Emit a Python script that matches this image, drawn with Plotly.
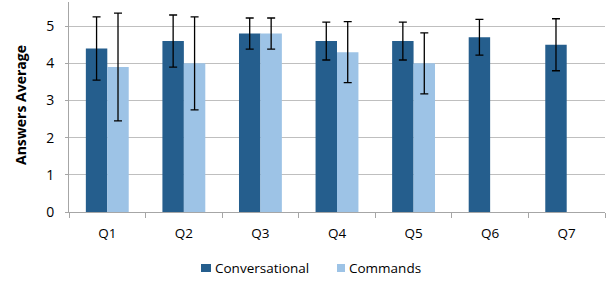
import plotly.graph_objects as go

categories = ["Q1", "Q2", "Q3", "Q4", "Q5", "Q6", "Q7"]
conversational = [4.4, 4.6, 4.8, 4.6, 4.6, 4.7, 4.5]
conversational_err = [0.85, 0.7, 0.42, 0.51, 0.51, 0.48, 0.7]
commands = [3.9, 4.0, 4.8, 4.3, 4.0, None, None]
commands_err = [1.45, 1.25, 0.42, 0.82, 0.82, None, None]
series_names = ["Conversational", "Commands"]
series_colors = ["#255E8D", "#9DC3E6"]

font_family = "Open Sans, Liberation Sans, Arial, sans-serif"

W, H = 609, 282
ML, MR, MT, MB = 69, 4, 2, 70
PW, PH = W - ML - MR, H - MT - MB


def px_x(x):
    return (x - ML) / PW


def px_y(y):
    return (H - MB - y) / PH


fig = go.Figure()
for name, vals, errs, col in [
    (series_names[0], conversational, conversational_err, series_colors[0]),
    (series_names[1], commands, commands_err, series_colors[1]),
]:
    fig.add_trace(go.Bar(
        x=categories, y=vals, name=name,
        marker=dict(color=col, line=dict(width=0)),
        error_y=dict(type="data", array=errs, color="black", thickness=1.3, width=4),
    ))

# custom legend (squares + text) below the plot
legend_items = [(201, 211, 213), (337, 345, 347)]
shapes = []
annotations = []
for (sx0, sx1, tx), name, col in zip(legend_items, series_names, series_colors):
    shapes.append(dict(type="rect", xref="paper", yref="paper",
                       x0=px_x(sx0), x1=px_x(sx1), y0=px_y(272), y1=px_y(264),
                       fillcolor=col, line=dict(width=0)))
    annotations.append(dict(text=name, xref="paper", yref="paper",
                            x=px_x(tx), y=px_y(268), xanchor="left", yanchor="middle",
                            showarrow=False, font=dict(size=13.5, color="black")))

annotations.append(dict(text="<b>Answers Average</b>", xref="paper", yref="paper",
                        x=px_x(20), y=px_y(105), xanchor="center", yanchor="middle",
                        textangle=-90, showarrow=False, font=dict(size=14, color="black")))

fig.update_layout(
    width=W, height=H,
    margin=dict(l=ML, r=MR, t=MT, b=MB, autoexpand=False),
    paper_bgcolor="white", plot_bgcolor="white",
    barmode="group", bargap=0.44, bargroupgap=0,
    font=dict(family=font_family, size=13, color="black"),
    showlegend=False,
    shapes=shapes, annotations=annotations,
    xaxis=dict(
        automargin=False,
        showline=True, linecolor="#A6A6A6", linewidth=1,
        ticks="outside", tickson="boundaries", ticklen=5, tickcolor="#A6A6A6",
        showgrid=False, tickfont=dict(size=13.5), ticklabelstandoff=9,
    ),
    yaxis=dict(
        automargin=False,
        range=[0, 5.65], tickvals=[0, 1, 2, 3, 4, 5],
        showline=True, linecolor="#A6A6A6", linewidth=1,
        ticks="outside", ticklen=3, tickcolor="#A6A6A6",
        showgrid=True, gridcolor="#BFBFBF", gridwidth=1,
        zeroline=False, tickfont=dict(size=14), ticklabelstandoff=8,
    ),
)

fig.write_html("out.html", config={"displayModeBar": False},
               post_script="document.body.style.margin='0';")
